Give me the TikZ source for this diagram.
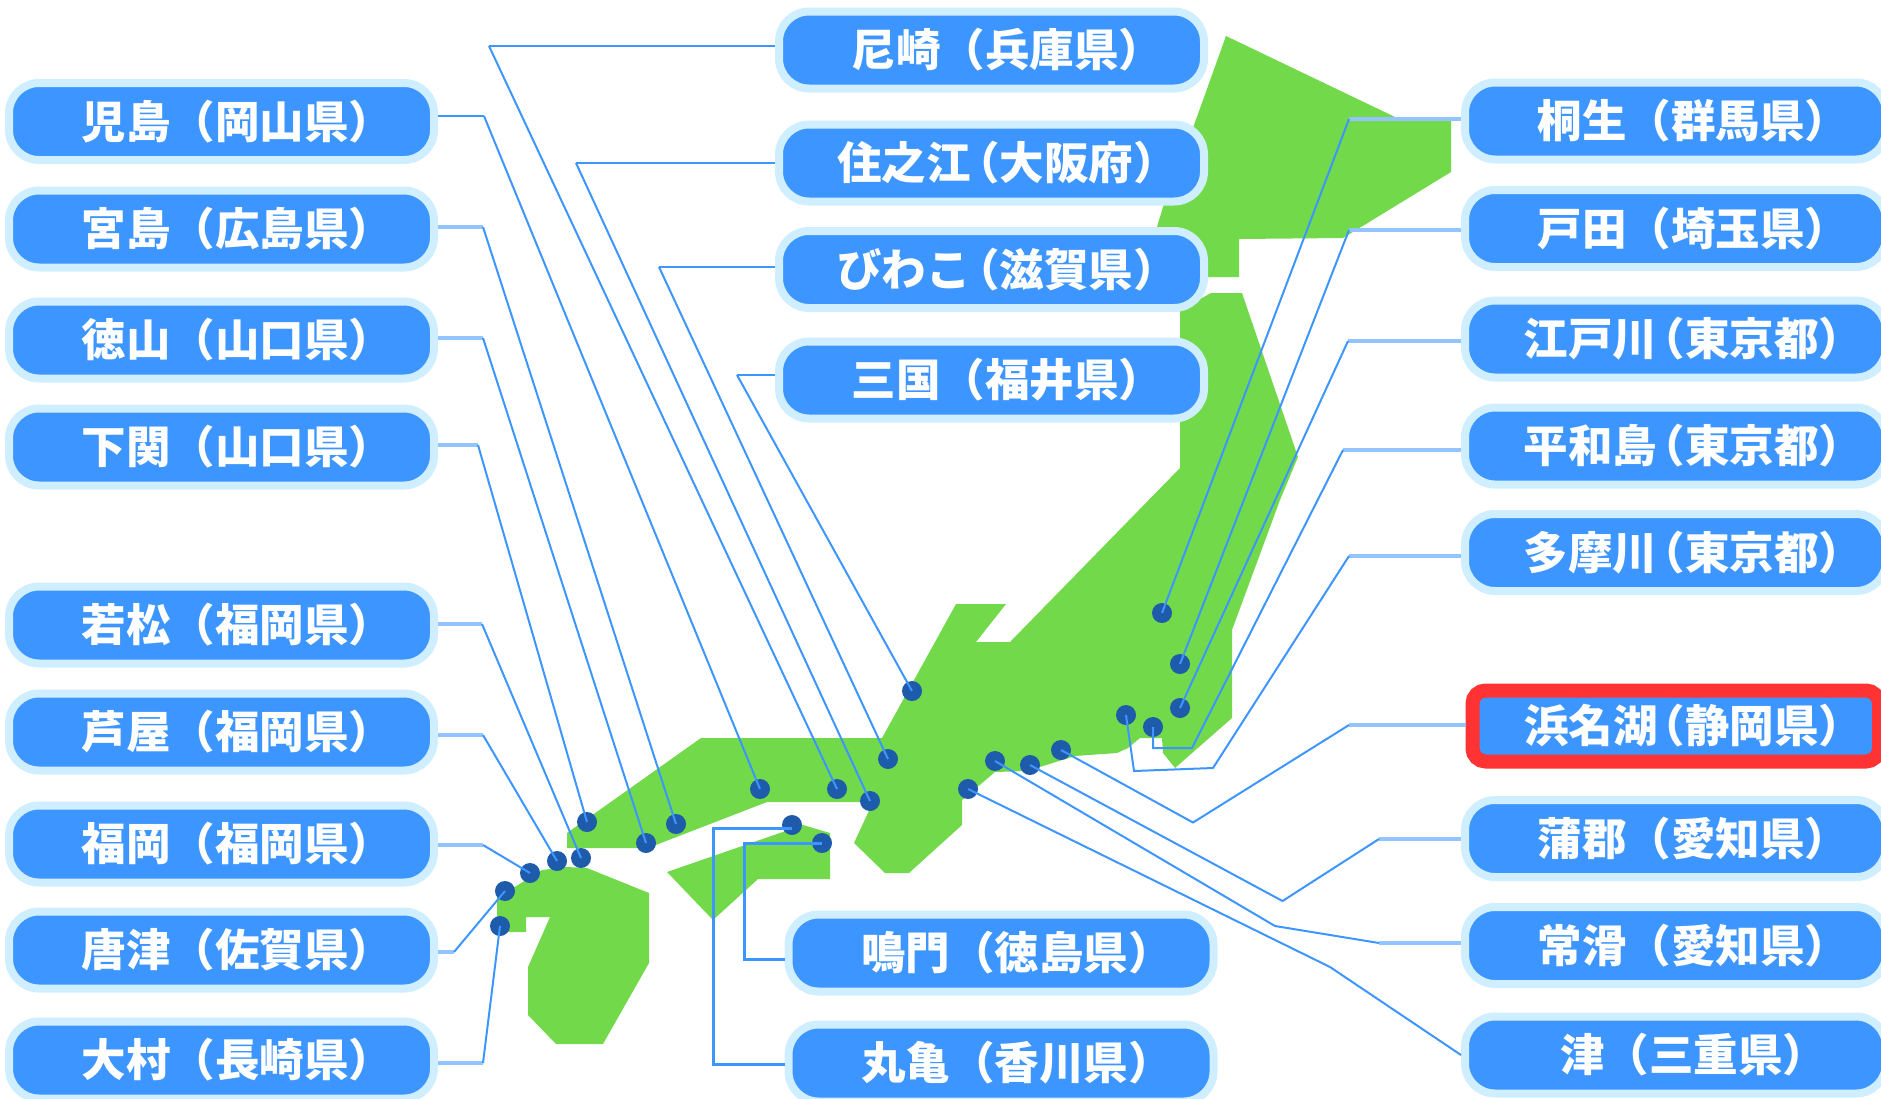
\documentclass[tikz,border=0pt]{standalone}
\usepackage{fontspec}
\newfontfamily\jpfont{Noto Sans CJK JP}
\newcommand\ptx[2]{#1（#2）\kern-.72em}
\newcommand\ptz[2]{#1\kern-.35em（#2）\kern-.72em}
\newcommand\rtx[2]{\kern4pt #1（#2）\kern-.72em}
\newcommand\rtz[2]{\kern4pt #1\kern-.38em（#2）\kern-.72em}
\definecolor{pillblue}{HTML}{3D96FF}
\definecolor{pillhalo}{HTML}{CFEEFF}
\definecolor{landgreen}{HTML}{72D94B}
\definecolor{dotblue}{HTML}{1E5BAB}
\definecolor{alertred}{HTML}{FF3333}
\definecolor{palewire}{HTML}{94C4FF}
\tikzset{
  pill/.style={draw=pillhalo,fill=pillblue,line width=8pt,rounded corners=30pt,
    minimum width=425pt,minimum height=77pt,inner sep=0pt,text=white,
    text height=38pt,text depth=5pt,
    font=\jpfont\bfseries\fontsize{44.5}{44.5}\selectfont},
  rightpill/.style={pill,minimum width=421pt},
  alertpill/.style={pill,draw=alertred,line width=14pt,rounded corners=13pt,
    minimum width=406.5pt,minimum height=71pt},
  site/.style={circle,fill=dotblue,minimum size=20pt,inner sep=0pt},
  land/.style={fill=landgreen,draw=none},
  wire/.style={draw=pillblue,line width=2pt,line join=miter},
  darkrun/.style={draw=pillblue,line width=2.4pt},
  palerun/.style={draw=palewire,line width=4pt},
}
\begin{document}
\begin{tikzpicture}[x=1pt,y=-1pt]
\useasboundingbox (0,0) rectangle (1881,1098);
% land
\path[land] (1226,36) -- (1395,117) -- (1451,121) -- (1451,172) -- (1343,238) -- (1239,239) -- (1239,277)
  -- (1190,277) -- (1190,250) -- (1157,227) -- (1163,207) -- (1194,125) -- cycle;
\path[land] (567,833) -- (701,738) -- (882,738) -- (956,604) -- (1006,604) -- (976,642) -- (1010,642)
  -- (1180,468) -- (1180,310) -- (1211,293) -- (1242,293) -- (1298,457) -- (1280,500) -- (1232,630)
  -- (1232,718) -- (1175,768) -- (1163,753) -- (1162,738) -- (1140,738) -- (1128,748) -- (1117,753)
  -- (1075,756) -- (1027,771) -- (995,772) -- (962,800) -- (962,825) -- (909,873) -- (885,873)
  -- (854,843) -- (873,802) -- (767,802) -- (648,848) -- (567,848) -- cycle;
\path[land] (497,897) -- (497,932) -- (526,932) -- (526,917) -- (550,917) -- (528,967) -- (528,1015)
  -- (556,1044) -- (603,1044) -- (649,963) -- (649,893) -- (587,868) -- (567,867) -- (542,870) -- (518,885) -- cycle;
\path[land] (667,872) -- (803,825) -- (830,833) -- (830,879) -- (758,879) -- (713,920) -- cycle;
% left pills
\node[pill] (kojima) at (221.5,121.5) {\ptx{児島}{岡山県}};
\node[pill] (miyajima) at (221.5,229) {\ptx{宮島}{広島県}};
\node[pill] (tokuyama) at (221.5,340) {\ptx{徳山}{山口県}};
\node[pill] (shimonoseki) at (221.5,447) {\ptx{下関}{山口県}};
\node[pill] (wakamatsu) at (221.5,625) {\ptx{若松}{福岡県}};
\node[pill] (ashiya) at (221.5,732) {\ptx{芦屋}{福岡県}};
\node[pill] (fukuoka) at (221.5,844) {\ptx{福岡}{福岡県}};
\node[pill] (karatsu) at (221.5,950) {\ptx{唐津}{佐賀県}};
\node[pill] (omura) at (221.5,1060) {\ptx{大村}{長崎県}};
% centre pills
\node[pill] (amagasaki) at (991.5,50) {\ptx{尼崎}{兵庫県}};
\node[pill] (suminoe) at (991.5,163) {\ptz{住之江}{大阪府}};
\node[pill] (biwako) at (991.5,269.5) {\ptz{びわこ}{滋賀県}};
\node[pill] (mikuni) at (991.5,380) {\ptx{三国}{福井県}};
\node[pill] (naruto) at (1001,953) {\ptx{鳴門}{徳島県}};
\node[pill] (marugame) at (1001,1063) {\ptx{丸亀}{香川県}};
% right pills
\node[rightpill] (kiryu) at (1675.5,121) {\rtx{桐生}{群馬県}};
\node[rightpill] (toda) at (1675.5,228.5) {\rtx{戸田}{埼玉県}};
\node[rightpill] (edogawa) at (1675.5,339) {\rtz{江戸川}{東京都}};
\node[rightpill] (heiwajima) at (1675.5,446) {\rtz{平和島}{東京都}};
\node[rightpill] (tamagawa) at (1675.5,552.5) {\rtz{多摩川}{東京都}};
\node[alertpill] (hamanako) at (1675.75,726) {\rtz{浜名湖}{静岡県}};
\node[rightpill] (gamagori) at (1675.5,838.5) {\rtx{蒲郡}{愛知県}};
\node[rightpill] (tokoname) at (1675.5,945.5) {\rtx{常滑}{愛知県}};
\node[rightpill] (tsu) at (1675.5,1055) {\rtx{津}{三重県}};
% sites
\foreach \n/\p in {
  dkojima/{760,789}, dmiyajima/{676,824}, dtokuyama/{646,843}, dshimonoseki/{587,822},
  dwakamatsu/{581,858}, dashiya/{557,861}, dfukuoka/{530,873}, dkaratsu/{505,891}, domura/{500,926},
  damagasaki/{837,789}, dsuminoe/{870,801}, dbiwako/{888,759}, dmikuni/{912,691},
  dnaruto/{822,843}, dmarugame/{792,825},
  dkiryu/{1162,613}, dtoda/{1180,664}, dedogawa/{1180,708}, dheiwajima/{1153,727}, dtamagawa/{1126,715},
  dhamanako/{1061,750}, dgamagori/{1030,765}, dtokoname/{995,761}, dtsu/{968,789}}
  {\node[site] (\n) at (\p) {};}
% corners
\coordinate (ckojima) at (484,116);
\coordinate (cmiyajima) at (483,227);
\coordinate (ctokuyama) at (483,338);
\coordinate (cshimonoseki) at (478,445);
\coordinate (cwakamatsu) at (482,624);
\coordinate (cashiya) at (483,735);
\coordinate (cfukuoka) at (483,845);
\coordinate (ckaratsu) at (454,952);
\coordinate (comura) at (483,1063);
\coordinate (camagasaki) at (489,46);
\coordinate (csuminoe) at (576,163);
\coordinate (cbiwako) at (659,267);
\coordinate (cmikuni) at (737,375);
\coordinate (cnarutoa) at (744,843);
\coordinate (cnarutob) at (744,959);
\coordinate (cmarugamea) at (713,828);
\coordinate (cmarugameb) at (713,1064);
\coordinate (ckiryu) at (1349,119);
\coordinate (ctoda) at (1349,230);
\coordinate (cedogawa) at (1348,341);
\coordinate (cheiwajima) at (1343,450);
\coordinate (cheiwajimab) at (1192,748);
\coordinate (cheiwajimac) at (1153,748);
\coordinate (ctamagawa) at (1349,556);
\coordinate (ctamagawab) at (1213,768);
\coordinate (ctamagawac) at (1134,771);
\coordinate (chamanako) at (1349,725);
\coordinate (chamanakob) at (1193,822.5);
\coordinate (cgamagori) at (1379,839);
\coordinate (cgamagorib) at (1282.5,901);
\coordinate (ctokoname) at (1379,943);
\coordinate (ctokonameb) at (1275,926);
\coordinate (ctsu) at (1330,967);
% left connectors
\draw[darkrun] (kojima.east |- ckojima) -- (ckojima);
\draw[wire] (ckojima) -- (dkojima.center);
\foreach \n in {miyajima,tokuyama,shimonoseki,wakamatsu,ashiya,fukuoka,omura}{
  \draw[palerun] (\n.east |- c\n) -- (c\n);
  \draw[wire] (c\n) -- (d\n.center);
}
\draw[palerun] (karatsu.east |- ckaratsu) -- (ckaratsu);
\draw[wire] (ckaratsu) -- (dkaratsu.center);
% centre connectors
\foreach \n in {amagasaki,suminoe,biwako,mikuni}{
  \draw[darkrun] (\n.west |- c\n) -- (c\n);
  \draw[wire] (c\n) -- (d\n.center);
}
\draw[draw=pillblue,line width=3pt] (dnaruto.center |- cnarutoa) -- (cnarutoa) -- (cnarutob) -- (naruto.west |- cnarutob);
\draw[draw=pillblue,line width=3pt] (dmarugame.center |- cmarugamea) -- (cmarugamea) -- (cmarugameb) -- (marugame.west |- cmarugameb);
% right connectors
\foreach \n in {kiryu,toda,edogawa}{
  \draw[palerun] (\n.west |- c\n) -- (c\n);
  \draw[wire] (c\n) -- (d\n.center);
}
\draw[palerun] (heiwajima.west |- cheiwajima) -- (cheiwajima);
\draw[wire] (cheiwajima) -- (cheiwajimab) -- (cheiwajimac) -- (dheiwajima.center);
\draw[palerun] (tamagawa.west |- ctamagawa) -- (ctamagawa);
\draw[wire] (ctamagawa) -- (ctamagawab) -- (ctamagawac) -- (dtamagawa.center);
\draw[palerun] (hamanako.west |- chamanako) -- (chamanako);
\draw[wire] (chamanako) -- (chamanakob) -- (dhamanako.center);
\draw[palerun] (gamagori.west |- cgamagori) -- (cgamagori);
\draw[wire] (cgamagori) -- (cgamagorib) -- (dgamagori.center);
\draw[palerun] (tokoname.west |- ctokoname) -- (ctokoname);
\draw[wire] (ctokoname) -- (ctokonameb) -- (dtokoname.center);
\draw[wire] (tsu.west) -- (ctsu) -- (dtsu.center);
\end{tikzpicture}
\end{document}
